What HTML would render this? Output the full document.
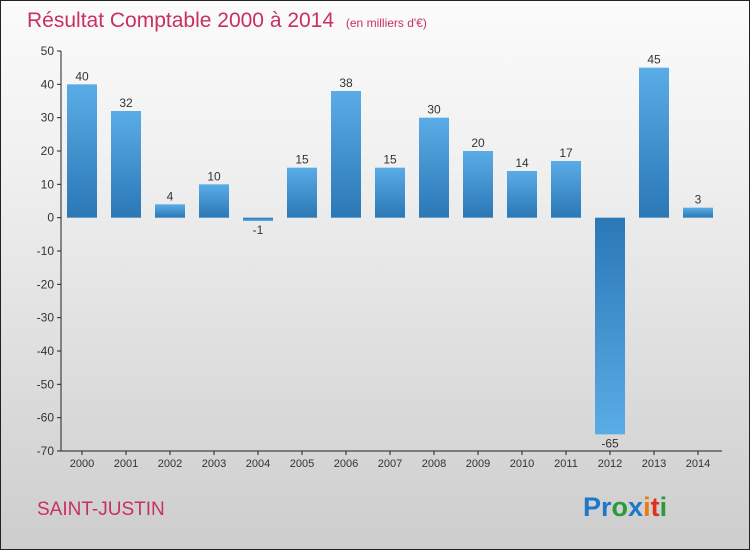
<!DOCTYPE html>
<html><head><meta charset="utf-8"><style>
body{margin:0;}
#c{width:748px;height:548px;border:1px solid #222;background:linear-gradient(#fbfbfb,#f0f0f0 30%,#cdcdcd);position:relative;font-family:"Liberation Sans",sans-serif;overflow:hidden}
</style></head><body>
<div id="c">
<svg width="748" height="548">
<defs>
<linearGradient id="gp" x1="0" y1="0" x2="0" y2="1"><stop offset="0" stop-color="#5aace6"/><stop offset="1" stop-color="#2a78b6"/></linearGradient>
<linearGradient id="gn" x1="0" y1="0" x2="0" y2="1"><stop offset="0" stop-color="#2a78b6"/><stop offset="1" stop-color="#5aace6"/></linearGradient>
</defs>
<text x="26" y="26" font-size="21" fill="#c8305e">Résultat Comptable 2000 à 2014 <tspan font-size="12" dx="6">(en milliers d'€)</tspan></text>
<g id="axes"></g><g id="bars"></g>
<text x="36" y="514" font-size="19" fill="#c8305e">SAINT-JUSTIN</text>
<text x="582" y="515" font-size="27" font-weight="bold"><tspan fill="#1e78c8">Pr</tspan><tspan fill="#2a9a3a">o</tspan><tspan fill="#1e78c8">x</tspan><tspan fill="#f07a10">i</tspan><tspan fill="#e03020">t</tspan><tspan fill="#2a9a3a">i</tspan></text>
</svg>
</div>
<script>
const years=["2000","2001","2002","2003","2004","2005","2006","2007","2008","2009","2010","2011","2012","2013","2014"];
const values=[40,32,4,10,-1,15,38,15,30,20,14,17,-65,45,3];
const yTicks=[50,40,30,20,10,0,-10,-20,-30,-40,-50,-60,-70];
const NS="http://www.w3.org/2000/svg";
const y=v=>50+(50-v)*400/120;
const x=i=>81+i*44;
function el(t,a,p){const e=document.createElementNS(NS,t);for(const k in a)e.setAttribute(k,a[k]);p.appendChild(e);return e;}
const ax=document.getElementById('axes'),bg=document.getElementById('bars');
const yl=el('line',{x1:60,y1:y(50),x2:60,y2:y(-70),stroke:'#222'},ax);


const xl=el('line',{x1:60,y1:y(-70),x2:721,y2:y(-70),stroke:'#222'},ax);


yTicks.forEach(v=>{
 el('line',{x1:56,y1:y(v),x2:60,y2:y(v),stroke:'#222'},ax);
 const t=el('text',{x:53,y:y(v)+4,'text-anchor':'end','font-size':12,fill:'#333'},ax);t.textContent=v;
 
 
});
years.forEach((yr,i)=>{
 el('line',{x1:x(i),y1:y(-70),x2:x(i),y2:y(-70)+4,stroke:'#222'},ax);
 const t=el('text',{x:x(i),y:466,'text-anchor':'middle','font-size':11,fill:'#333'},ax);t.textContent=yr;
 
 
 const v=values[i],top=Math.min(y(v),y(0)),h=Math.abs(y(v)-y(0));
 const r=el('rect',{x:x(i)-15,y:top,width:30,height:Math.max(h,1),fill:v>=0?'url(#gp)':'url(#gn)'},bg);
 
 
 const l=el('text',{x:x(i),y:v>=0?y(v)-4:y(v)+13,'text-anchor':'middle','font-size':12,fill:'#333'},bg);l.textContent=v;
 
 
});
</script>
</body></html>
